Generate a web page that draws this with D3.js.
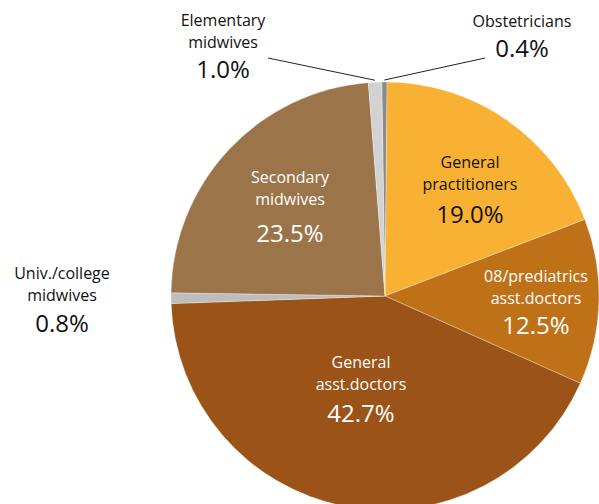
<!DOCTYPE html>
<html>
<head>
<meta charset="utf-8">
<script src="https://cdn.jsdelivr.net/npm/d3@7"></script>
<style>
  body { margin: 0; background: #fff; }
  svg { display: block; }
</style>
</head>
<body>
<script>
// slices, clockwise from the top
const categories = ["Obstetricians", "General practitioners", "08/prediatrics asst.doctors",
                    "General asst.doctors", "Univ./college midwives", "Secondary midwives", "Elementary midwives"];
const values = [0.4, 19.0, 12.5, 42.7, 0.8, 23.5, 1.0];
const labelLines = [["Obstetricians"], ["General", "practitioners"], ["08/prediatrics", "asst.doctors"],
                    ["General", "asst.doctors"], ["Univ./college", "midwives"], ["Secondary", "midwives"],
                    ["Elementary", "midwives"]];

const colors = ["#8a8a8a", "#f8b133", "#bf7118", "#9b5317", "#bdbdbd", "#9b7449", "#d2d2d2"];

const chart = {
    width: 599,
    height: 504,
    cx: 385,
    cy: 296,
    radius: 214,
    lineGap: 22,
    font: "'Open Sans', sans-serif"
};

// label block: x centre, first baseline, gap from last name line to the percentage, colour
const labelPos = [
    {x: 522, y: 27, pct: 30, color: "#111"},
    {x: 470, y: 168, pct: 33, color: "#111"},
    {x: 536, y: 282, pct: 30, color: "#fff"},
    {x: 361, y: 368, pct: 32, color: "#fff"},
    {x: 62, y: 279, pct: 31, color: "#111"},
    {x: 290, y: 183, pct: 37, color: "#fff"},
    {x: 223, y: 26, pct: 30, color: "#111"}
];

const data = categories.map((c, i) => ({name: c, value: values[i], lines: labelLines[i], i: i}));

const svg = d3.select("body").append("svg")
    .attr("width", chart.width)
    .attr("height", chart.height);

const g = svg.append("g").attr("transform", `translate(${chart.cx},${chart.cy})`);

const total = d3.sum(values);
const start = -values[0] / total * 2 * Math.PI + 0.01;

const pie = d3.pie()
    .sort(null)
    .value(d => d.value)
    .startAngle(start)
    .endAngle(start + 2 * Math.PI);

const arc = d3.arc().innerRadius(0).outerRadius(chart.radius);
const arcs = pie(data);

g.selectAll("path.slice")
    .data(arcs)
    .enter()
    .append("path")
      .attr("class", "slice")
      .attr("d", arc)
      .attr("fill", d => colors[d.data.i])
      .attr("stroke", "rgba(255,255,255,0.5)")
      .attr("stroke-width", 0.6);

// leader lines for the two thin slices at the top
const leaders = [
    {i: 0, from: [485, 58]},
    {i: 6, from: [268, 58]}
];
leaders.forEach(l => {
    const a = arcs[l.i];
    const mid = (a.startAngle + a.endAngle) / 2;
    const r = chart.radius + 2;
    svg.append("line")
        .attr("x1", l.from[0]).attr("y1", l.from[1])
        .attr("x2", chart.cx + r * Math.sin(mid))
        .attr("y2", chart.cy - r * Math.cos(mid))
        .attr("stroke", "#222")
        .attr("stroke-width", 1);
});

// labels
data.forEach((d, i) => {
    const p = labelPos[i];
    const t = svg.append("text")
        .attr("text-anchor", "middle")
        .attr("font-family", chart.font)
        .attr("fill", p.color);
    d.lines.forEach((line, k) => {
        t.append("tspan")
            .attr("x", p.x)
            .attr("y", p.y + k * chart.lineGap)
            .attr("font-size", 16)
            .text(line);
    });
    t.append("tspan")
        .attr("x", p.x)
        .attr("y", p.y + (d.lines.length - 1) * chart.lineGap + p.pct)
        .attr("font-size", 24)
        .text(d3.format(".1f")(d.value) + "%");
});
</script>
</body>
</html>
